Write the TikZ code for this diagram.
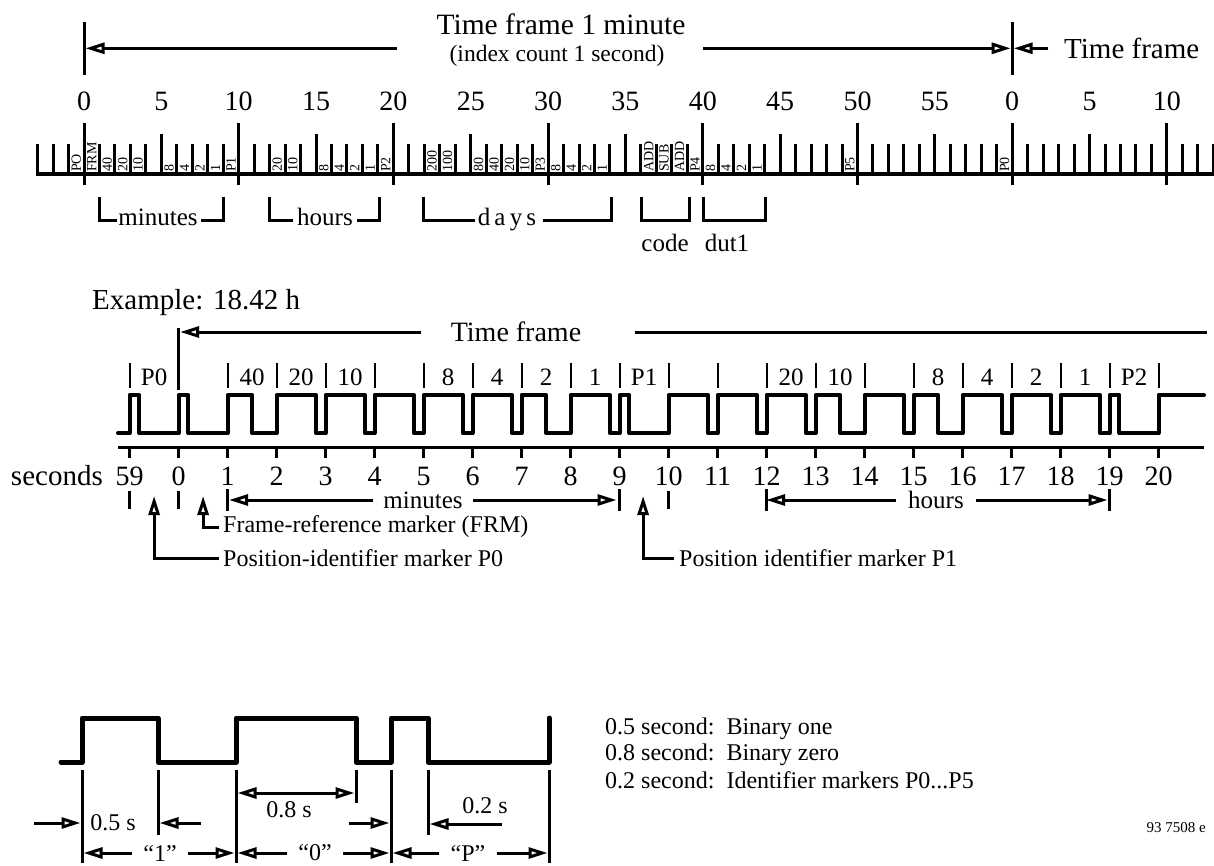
\documentclass[tikz,border=0pt]{standalone}
\usepackage{fontspec}
\setmainfont{Liberation Serif}
\usetikzlibrary{arrows.meta}
\newcommand{\fsz}[1]{\fontsize{#1}{#1}\selectfont}
\begin{document}
\begin{tikzpicture}[x=1pt,y=-1pt,
  txt/.style={inner sep=0pt, font=\fsz{28}},
  mid/.style={inner sep=0pt, font=\fsz{25}},
  sml/.style={inner sep=0pt, font=\fsz{24}},
  ln/.style={line width=3pt},
  thin bar/.style={line width=2pt},
  oa/.style={line width=3pt, -{Triangle[open,length=19pt,width=11pt]}},
  oaa/.style={line width=3pt, {Triangle[open,length=19pt,width=11pt]}-{Triangle[open,length=19pt,width=11pt]}},
  wave/.style={line width=4pt, line join=round, line cap=round},
  bigwave/.style={line width=5pt, line join=round, line cap=round},
  rl/.style={inner sep=0pt, rotate=90, anchor=west, font=\fsz{14}},
]
\useasboundingbox (0,0) rectangle (1214,865);

% ---------------- top: time frame 1 minute ----------------
\coordinate (t0a) at (84,22);   \coordinate (t0b) at (84,75);
\coordinate (t1a) at (1012.2,22); \coordinate (t1b) at (1012.2,75);
\draw[ln] (t0a) -- (t0b);
\draw[ln] (t1a) -- (t1b);
\node[inner sep=0pt, font=\fsz{29.5}, anchor=base] (title) at (561,34.3) {Time frame 1 minute};
\node[inner sep=0pt, font=\fsz{23.5}, anchor=base] (index) at (557,61) {(index count 1 second)};
\coordinate (aL) at (397,48.3);   \coordinate (aLt) at (85.5,48.3);
\coordinate (aR) at (703,48.3);   \coordinate (aRt) at (1010.7,48.3);
\coordinate (aX) at (1048,48.3);  \coordinate (aXt) at (1013.7,48.3);
\draw[oa] (aL) -- (aLt);
\draw[oa] (aR) -- (aRt);
\draw[oa] (aX) -- (aXt);
\node[inner sep=0pt, font=\fsz{29}, anchor=west] (tfR) at (1064,48.3) {Time frame};

% numbers
\foreach \s/\l in {0/0,5/5,10/10,15/15,20/20,25/25,30/30,35/35,40/40,45/45,50/50,55/55,60/0,65/5,70/10}
  \node[txt, anchor=base] (num\s) at ({84+15.47*\s},110) {\l};

% ruler
\coordinate (r0) at (36,174); \coordinate (r1) at (1214,174);
\draw[line width=3.5pt] (r0) -- (r1);
\foreach \s in {-3,...,73}{
  \pgfmathtruncatemacro\ma{mod(abs(\s),10)}
  \pgfmathtruncatemacro\mb{mod(abs(\s),5)}
  \ifnum\ma=0
    \draw[ln] ({84+15.47*\s},123) -- ({84+15.47*\s},185);
  \else\ifnum\mb=0
    \draw[ln] ({84+15.47*\s},134) -- ({84+15.47*\s},174);
  \else
    \draw[ln] ({84+15.47*\s},144) -- ({84+15.47*\s},174);
  \fi\fi
}
\foreach \s/\l in {-1/PO,0/FRM,1/40,2/20,3/10,5/8,6/4,7/2,8/1,9/P1,12/20,13/10,15/8,16/4,17/2,18/1,19/P2,22/200,23/100,25/80,26/40,27/20,28/10,29/P3,30/8,31/4,32/2,33/1,36/ADD,37/SUB,38/ADD,39/P4,40/8,41/4,42/2,43/1,49/P5,59/P0}
  \node[rl] (rl\s) at ({84+15.47*(\s+0.5)},172) {\l};

% brackets
\draw[ln] (99.5,197) -- (99.5,220) -- (117,220);
\node[mid, anchor=base] (bmin) at (158,225) {minutes};
\draw[ln] (201,220) -- (223,220) -- (223,197);
\draw[ln] (269,197) -- (269,220) -- (293,220);
\node[mid, anchor=base] (bhrs) at (325,225) {hours};
\draw[ln] (357,220) -- (379,220) -- (379,197);
\draw[ln] (423.5,197) -- (423.5,220) -- (475,220);
\node[mid, anchor=base] (bdays) at (507,225) {d\,a\,y\,s};
\draw[ln] (543,220) -- (611,220) -- (611,197);
\draw[ln] (641,197) -- (641,220) -- (689,220) -- (689,197);
\draw[ln] (703.5,197) -- (703.5,220) -- (765,220) -- (765,197);
\node[mid, anchor=base] (bcode) at (665,251) {code};
\node[mid, anchor=base] (bdut) at (727,251) {dut1};

% ---------------- middle: example ----------------
\node[inner sep=0pt, font=\fsz{29}, anchor=base west] (ex) at (92,309) {Example: 18.42 h};
\coordinate (tfb1) at (178.6,328); \coordinate (tfb2) at (178.6,390);
\draw[ln] (tfb1) -- (tfb2);
\coordinate (tfL) at (421,332); \coordinate (tfLt) at (180.1,332);
\draw[oa] (tfL) -- (tfLt);
\node[txt] (tfm) at (516,332) {Time frame};
\coordinate (tfR1) at (634.5,332); \coordinate (tfR2) at (1207,332);
\draw[ln] (tfR1) -- (tfR2);

% label bars and labels
\foreach \n in {-1,1,2,...,20}
  \draw[thin bar] ({178.6+49*\n},363) -- ({178.6+49*\n},388);
\foreach \n/\l in {-1/P0,1/40,2/20,3/10,5/8,6/4,7/2,8/1,9/P1,12/20,13/10,15/8,16/4,17/2,18/1,19/P2}
  \node[mid, anchor=base] (wl\n) at ({178.6+49*(\n+0.5)},385) {\l};

% waveform
\draw[wave] (118,433)
  \foreach \n/\d in {-1/0.2,0/0.2,1/0.5,2/0.8,3/0.8,4/0.8,5/0.8,6/0.8,7/0.5,8/0.8,9/0.2,10/0.8,11/0.8,12/0.8,13/0.5,14/0.8,15/0.5,16/0.8,17/0.8,18/0.8,19/0.2}
  { -- ({178.6+49*\n},433) -- ({178.6+49*\n},395) -- ({178.6+49*(\n+\d)},395) -- ({178.6+49*(\n+\d)},433) }
  -- (1158.6,433) -- (1158.6,395) -- (1204,395);

% axis
\coordinate (ax0) at (118,447); \coordinate (ax1) at (1204,447);
\draw[ln] (ax0) -- (ax1);
\foreach \n in {-1,0,...,20}
  \draw[line width=2.5pt] ({178.6+49*\n},447) -- ({178.6+49*\n},458);
\node[inner sep=0pt, font=\fsz{29}, anchor=base east] (secs) at (103,485) {seconds};
\node[txt, anchor=base] (sn-1) at (129.6,485) {59};
\foreach \n in {0,...,20}
  \node[txt, anchor=base] (sn\n) at ({178.6+49*\n},485) {\n};

% marks
\foreach \n in {-1,0,10}
  \draw[ln] ({178.6+49*\n},491) -- ({178.6+49*\n},509);
\foreach \n in {1,9,12,19}
  \draw[ln] ({178.6+49*\n},489) -- ({178.6+49*\n},511);
\node[mid, inner xsep=10pt] (mins) at (423,500) {minutes};
\draw[oa] (mins.west) -- (229.1,500);
\draw[oa] (mins.east) -- (616.5,500);
\node[mid, inner xsep=12pt] (hrs) at (936,500) {hours};
\draw[oa] (hrs.west) -- (766.1,500);
\draw[oa] (hrs.east) -- (1107.5,500);

% markers
\node[sml, inner xsep=4pt, anchor=west] (frm) at (219,527) {Frame-reference marker (FRM)};
\draw[oa] (frm.west) -| (203.1,496);
\node[sml, inner xsep=4pt, anchor=west] (pz) at (219,558) {Position-identifier marker P0};
\draw[oa] (pz.west) -| (154.1,496);
\node[sml, inner xsep=5pt, anchor=west] (po) at (674,558) {Position identifier marker P1};
\draw[oa] (po.west) -| (643.1,496);

% ---------------- bottom: pulse definitions ----------------
\draw[bigwave] (61,762) -- (82,762) -- (82,718) -- (158,718) -- (158,762) -- (236,762) -- (236,718)
  -- (356,718) -- (356,762) -- (391,762) -- (391,718) -- (428,718) -- (428,762) -- (549,762) -- (549,718);

\draw[ln] (82,770) -- (82,863);
\draw[ln] (158,770) -- (158,835);
\draw[ln] (236,770) -- (236,863);
\draw[ln] (356,770) -- (356,803);
\draw[ln] (391,770) -- (391,863);
\draw[ln] (428,770) -- (428,835);
\draw[ln] (549,770) -- (549,863);

\coordinate (e8a) at (237.5,793); \coordinate (e8b) at (354.5,793);
\draw[oaa] (e8a) -- (e8b);
\node[sml] (t08) at (289,810) {0.8 s};

\coordinate (e5a) at (34,823); \coordinate (e5at) at (80.5,823);
\draw[oa] (e5a) -- (e5at);
\node[sml] (t05) at (113,823) {0.5 s};
\coordinate (e5b) at (201,823); \coordinate (e5bt) at (159.5,823);
\draw[oa] (e5b) -- (e5bt);

\coordinate (e2a) at (349,823); \coordinate (e2at) at (389.5,823);
\draw[oa] (e2a) -- (e2at);
\node[sml] (t02) at (485,806) {0.2 s};
\coordinate (e2b) at (502,824); \coordinate (e2bt) at (429.5,824);
\draw[oa] (e2b) -- (e2bt);

\node[sml, inner xsep=11pt] (q1) at (160,853) {“1”};
\draw[oa] (q1.west) -- (83.5,853);
\draw[oa] (q1.east) -- (234.5,853);
\node[sml, inner xsep=11pt] (q0) at (315,853) {“0”};
\draw[oa] (q0.west) -- (237.5,853);
\draw[oa] (q0.east) -- (389.5,853);
\node[sml, inner xsep=11pt] (qP) at (468,853) {“P”};
\draw[oa] (qP.west) -- (392.5,853);
\draw[oa] (qP.east) -- (547.5,853);

% legend
\node[sml, anchor=west] (lg1) at (605,729) {0.5 second:~~Binary one};
\node[sml, anchor=west] (lg2) at (605,755) {0.8 second:~~Binary zero};
\node[sml, anchor=west] (lg3) at (605,780) {0.2 second:~~Identifier markers P0...P5};
\node[inner sep=0pt, font=\fsz{15}, anchor=east] (code) at (1206,828) {93 7508 e};
\end{tikzpicture}
\end{document}
